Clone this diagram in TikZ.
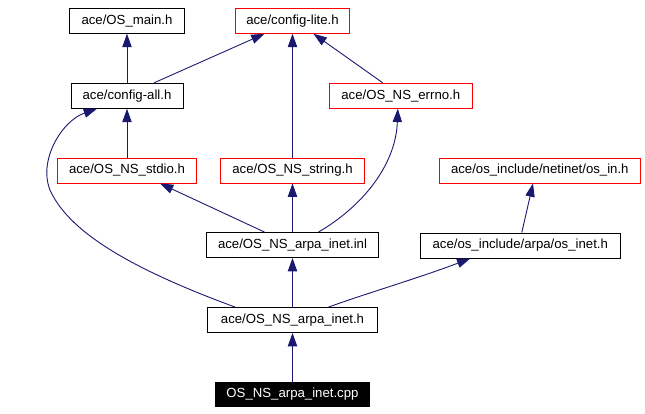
\documentclass[tikz,border=0pt]{standalone}
\usepackage{fontspec}
\setmainfont{Liberation Sans}
\usetikzlibrary{arrows.meta}
\definecolor{edgeblue}{HTML}{191970}
\begin{document}
\begin{tikzpicture}[x=1pt,y=-1pt,
  box/.style={draw=black,line width=0.9pt,fill=white,rectangle,minimum height=25pt,inner sep=0pt,font=\fontsize{13.2}{15}\selectfont},
  redbox/.style={box,draw=red},
  mainbox/.style={box,fill=black,text=white},
  dep/.style={edgeblue,line width=0.9pt,-{Triangle[length=13.3pt,width=9.3pt]}}]
\useasboundingbox (0,0) rectangle (645,413);
\node[box,minimum width=115pt] (main) at (127,20.8) {ace/OS\_main.h};
\node[redbox,minimum width=114pt] (lite) at (292.5,20.8) {ace/config-lite.h};
\node[box,minimum width=112pt] (all) at (127,95.8) {ace/config-all.h};
\node[redbox,minimum width=143pt] (errno) at (400.8,95.8) {ace/OS\_NS\_errno.h};
\node[redbox,minimum width=139pt] (stdio) at (127,170.5) {ace/OS\_NS\_stdio.h};
\node[redbox,minimum width=144pt] (string) at (292.5,170.5) {ace/OS\_NS\_string.h};
\node[redbox,minimum width=201pt] (osin) at (539.8,170.5) {ace/os\_include/netinet/os\_in.h};
\node[box,minimum width=172.5pt] (inl) at (292.5,245) {ace/OS\_NS\_arpa\_inet.inl};
\node[box,minimum width=199.5pt] (osinet) at (520.3,245.5) {ace/os\_include/arpa/os\_inet.h};
\node[box,minimum width=169.4pt] (h) at (292.5,320) {ace/OS\_NS\_arpa\_inet.h};
\node[mainbox,minimum width=154pt,minimum height=24.4pt] (cpp) at (292.5,394.5) {OS\_NS\_arpa\_inet.cpp};

\draw[dep] (all.north) -- (main.south);
\draw[dep] (stdio.north) -- (all.south);
\draw[dep] (string.north) -- (lite.south);
\draw[dep] (inl.north) -- (string.south);
\draw[dep] (h.north) -- (inl.south);
\draw[dep] (cpp.north) -- (h.south);
\draw[dep] ([xshift=27pt]all.north) -- ([xshift=-28pt]lite.south);
\draw[dep] ([xshift=-18pt]errno.north) -- ([xshift=21pt]lite.south);
\draw[dep] ([xshift=-28pt]inl.north) -- ([xshift=33pt]stdio.south);
\draw[dep] ([xshift=26pt]inl.north) .. controls +(43,-25) and +(-2,57) .. ([xshift=-3pt]errno.south);
\draw[dep] ([xshift=36pt]h.north) .. controls +(42,-15) and +(-50,19) .. ([xshift=-50pt]osinet.south);
\draw[dep] ([xshift=1.5pt]osinet.north) -- ([xshift=-6.8pt]osin.south);
\draw[dep] ([xshift=-57.5pt]h.north) .. controls +(-95,-35) and +(20,45) .. (50,190) coordinate (bend)
  .. controls +(-12,-30) and +(-35,12) .. ([xshift=-30pt]all.south);
\end{tikzpicture}
\end{document}
